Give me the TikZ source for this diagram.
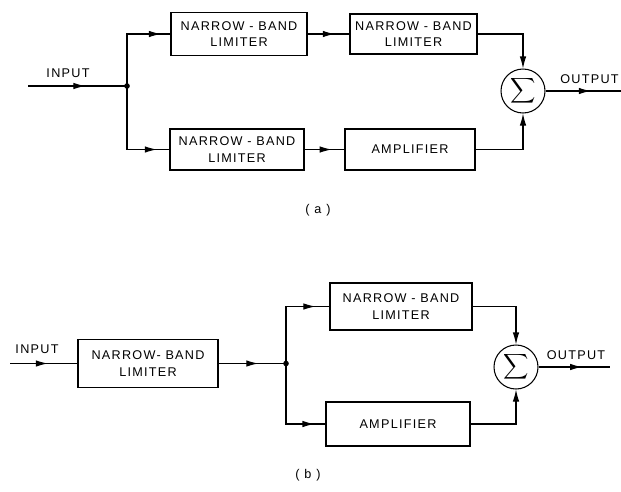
\documentclass[tikz,border=0pt]{standalone}
\usepackage{fontspec}
\setsansfont[LetterSpace=10]{Liberation Sans}
\usepackage{tikz}
\usetikzlibrary{arrows.meta,decorations.markings,positioning}

\tikzset{
  blk/.style 2 args={draw, line width=0.6pt, align=center, inner sep=0pt,
    minimum width=#1, minimum height=#2},
  sumnode/.style={draw, line width=0.6pt, circle, inner sep=0pt, minimum size=0.88cm},
  flow/.style={line width=0.6pt, postaction={decorate},
    decoration={markings, mark=at position #1 with {\arrow{Latex[length=2.4mm,width=1.3mm]}}}},
  flow/.default=0.6,
  into/.style={line width=0.6pt, -{Latex[length=2.4mm,width=1.3mm]}},
  lbl/.style={inner sep=0pt}
}

\begin{document}
\begin{tikzpicture}[x=0.02cm, y=-0.02cm,
    font=\sffamily\fontsize{7.2}{9.5}\selectfont]
  \useasboundingbox (0,0) rectangle (621,491);

  % (a) two parallel paths
  \coordinate (ina) at (28,86);
  \coordinate (ja) at (127,86);
  \coordinate (outa) at (621,91);
  \node[blk={2.72cm}{0.86cm}] (nba1) at (239,34) {NARROW - BAND\\LIMITER};
  \node[blk={2.54cm}{0.80cm}] (nba2) at (413.5,34) {NARROW - BAND\\LIMITER};
  \node[blk={2.68cm}{0.82cm}] (nba3) at (237,149.5) {NARROW - BAND\\LIMITER};
  \node[blk={2.60cm}{0.82cm}] (ampa) at (410,149.5) {AMPLIFIER};
  \node[sumnode] (suma) at (523,91) {$\displaystyle\sum$};
  \node[lbl] (ina-l) at (68,73) {INPUT};
  \node[lbl, anchor=east] (outa-l) at (619,79) {OUTPUT};
  \node[lbl] (capa) at (318,210) {( a )};

  \draw[flow=0.58] (ina) -- (ja);
  \fill (ja) circle (1.6pt);
  \draw[flow=0.9] (ja) |- (nba1.west);
  \draw[flow=0.88] (ja) |- (nba3.west);
  \draw[flow=0.65] (nba1.east) -- (nba2.west);
  \draw[flow=0.68] (nba3.east) -- (ampa.west);
  \draw[into] (nba2.east) -| (suma.north);
  \draw[into] (ampa.east) -| (suma.south);
  \draw[flow=0.6] (suma.east) -- (outa);

  % (b) limiter ahead of the split
  \coordinate (inb) at (10,363.5);
  \coordinate (jb) at (286,363.5);
  \coordinate (outb) at (610,367);
  \node[blk={2.80cm}{0.96cm}] (nbb1) at (148,363.5) {NARROW- BAND\\LIMITER};
  \node[blk={2.84cm}{0.94cm}] (nbb2) at (401,306.5) {NARROW - BAND\\LIMITER};
  \node[blk={2.88cm}{0.88cm}] (ampb) at (398,424) {AMPLIFIER};
  \node[sumnode] (sumb) at (516,367) {$\displaystyle\sum$};
  \node[lbl] (inb-l) at (37,349) {INPUT};
  \node[lbl] (outb-l) at (576,355) {OUTPUT};
  \node[lbl] (capb) at (308,475) {( b )};

  \draw[flow=0.56] (inb) -- (nbb1.west);
  \draw[flow=0.59] (nbb1.east) -- (jb);
  \fill (jb) circle (1.6pt);
  \draw[flow=0.86] (jb) |- (nbb2.west);
  \draw[flow=0.89] (jb) |- (ampb.west);
  \draw[into] (nbb2.east) -| (sumb.north);
  \draw[into] (ampb.east) -| (sumb.south);
  \draw[flow=0.61] (sumb.east) -- (outb);
\end{tikzpicture}
\end{document}
